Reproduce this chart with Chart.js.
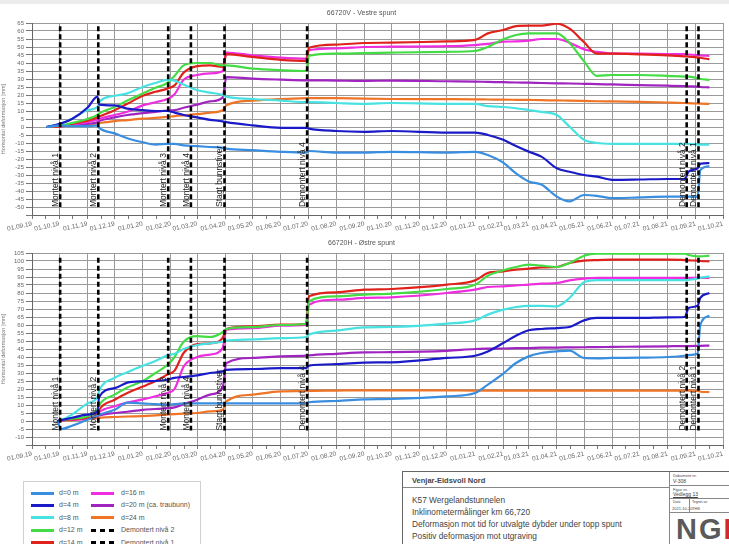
<!DOCTYPE html>
<html>
<head>
<meta charset="utf-8">
<script src="https://cdn.jsdelivr.net/npm/chart.js@4.4.1/dist/chart.umd.min.js"></script>
<style>
  html, body { margin: 0; padding: 0; background: #fff; }
  body { width: 729px; height: 544px; position: relative; overflow: hidden;
         font-family: 'Liberation Sans', Arial, sans-serif; }
  #strip { position: absolute; left: 0; top: 0; width: 729px; height: 4px; background: #ececec; }
  .panel { position: absolute; left: 0; width: 729px; height: 240px; }
  #legend { position: absolute; left: 23px; top: 481px; width: 176px; height: 70px;
            border: 1px solid #d0d0d0; background: #fff; }
  .lg-sw { position: absolute; height: 3px; width: 23px; }
  .lg-tx { position: absolute; font-size: 7px; color: #555; line-height: 8px; white-space: nowrap; }
  #tblock { position: absolute; left: 402px; top: 471px; width: 340px; height: 90px;
            border: 1px solid #666; background: #fff; color: #444; overflow: hidden; }
  #tblock .t { position: absolute; white-space: nowrap; }
  .hl { position: absolute; height: 0; border-top: 1px solid #888; }
  .vl { position: absolute; width: 0; border-left: 1px solid #888; }
</style>
</head>
<body>
<div id="strip"></div>
<div class="panel" style="top:0px"><canvas id="cTop" width="729" height="240"></canvas></div>
<div class="panel" style="top:230px"><canvas id="cBot" width="729" height="240"></canvas></div>
<div id="legend"></div>
<div id="tblock">
  <div class="t" style="left:9px;top:4px;font-size:7.5px;font-weight:bold;">Venjar-Eidsvoll Nord</div>
  <div class="hl" style="left:0;top:15px;width:266px;"></div>
  <div class="t" style="left:9px;top:23px;font-size:8.3px;">K57 Wergelandstunnelen</div>
  <div class="t" style="left:9px;top:35px;font-size:8.3px;">Inklinometermålinger km 66,720</div>
  <div class="t" style="left:9px;top:47px;font-size:8.3px;">Deformasjon mot tid for utvalgte dybder under topp spunt</div>
  <div class="t" style="left:9px;top:59px;font-size:8.3px;">Positiv deformasjon mot utgraving</div>
  <div class="vl" style="left:266px;top:0;height:90px;"></div>
  <div class="t" style="left:270px;top:1px;font-size:4px;">Dokument nr.</div>
  <div class="t" style="left:270px;top:6px;font-size:5px;">V-308</div>
  <div class="hl" style="left:266px;top:13px;width:80px;"></div>
  <div class="t" style="left:270px;top:15px;font-size:4px;">Figur nr.</div>
  <div class="t" style="left:270px;top:19px;font-size:5px;text-decoration:underline;">Vedlegg 13</div>
  <div class="hl" style="left:266px;top:26px;width:80px;"></div>
  <div class="t" style="left:270px;top:28px;font-size:3.5px;">Dato</div>
  <div class="t" style="left:289px;top:28px;font-size:3.5px;">Tegnet av</div>
  <div class="t" style="left:269px;top:34px;font-size:4px;">2021-10-20</div>
  <div class="t" style="left:289px;top:34px;font-size:4px;">THS</div>
  <div class="vl" style="left:286px;top:26px;height:14px;"></div>
  <div class="hl" style="left:266px;top:40px;width:80px;"></div>
  <div class="t" style="left:273px;top:41px;font-size:29px;font-weight:bold;color:#5a5a5a;letter-spacing:2px;">NG<span style="color:#d22a2a">I</span></div>
</div>

<script>
// Monitoring dates (dd.mm.yy) and horizontal deformation in mm per depth
const topDates = ['17.09.19','02.10.19','15.10.19','01.11.19','12.11.19','14.11.19','01.12.19','15.12.19',
  '01.01.20','15.01.20','28.01.20','05.02.20','15.02.20','01.03.20','15.03.20','29.03.20','02.04.20',
  '01.05.20','01.06.20','29.06.20','02.07.20','01.08.20','01.09.20','01.10.20','01.12.20','01.01.21',
  '15.01.21','01.02.21','15.02.21','01.03.21','15.03.21','01.04.21','15.04.21','01.05.21','15.05.21',
  '01.06.21','01.07.21','01.08.21','20.08.21','24.08.21','03.09.21','06.09.21','16.09.21'];
const bottomDates = ['29.09.19','03.10.19','15.10.19','01.11.19','12.11.19','14.11.19','01.12.19','15.12.19',
  '01.01.20','15.01.20','28.01.20','05.02.20','15.02.20','01.03.20','15.03.20','29.03.20','02.04.20',
  '01.05.20','01.06.20','29.06.20','02.07.20','01.08.20','01.09.20','01.10.20','01.12.20','01.01.21',
  '15.01.21','01.02.21','15.02.21','01.03.21','15.03.21','01.04.21','15.04.21','01.05.21','15.05.21',
  '01.06.21','01.07.21','01.08.21','20.08.21','24.08.21','03.09.21','06.09.21','16.09.21'];

const seriesNames  = ['d=0 m','d=4 m','d=8 m','d=12 m','d=14 m','d=16 m','d=20 m (ca. traubunn)','d=24 m'];
const seriesColors = ['#3a8ee0','#1a1ac8','#48e2e2','#44dc44','#e0221c','#ee2edf','#a024c0','#f07426'];

// 66720V - Vestre spunt
const vestre_d0  = [0,1,0.5,0.5,1,-0.5,-4,-7,-9.5,-11,-10.5,-10.5,-11.5,-12,-12.5,-13,-13.5,-14.5,-15.5,-16,-15,-16,-16,-15.5,-16,-15.5,-17.5,-22.3,-29,-34,-36,-43.5,-46.5,-42.5,-43,-44.5,-44,-43.5,-43.5,-43.5,-43.5,-27,-24.5];
const vestre_d4  = [0,2,5,12,19,14,13.5,11.5,10.5,10,10,9,7.5,6,4.5,3.5,3,1,-0.5,-0.5,-1,-2.5,-3,-2.5,-3.5,-3.5,-5,-8,-11.9,-15.4,-18.5,-25.8,-28,-30,-31,-33,-32.8,-32.5,-32.5,-28,-25.8,-23,-22.5];
const vestre_d8  = [0,2,5,10.5,12.5,15.5,19.5,21,25,27.5,29.5,29,26.5,23,21.5,20,19,17.5,16.5,15.5,15.5,15,14.5,15,14.5,14.5,13,12.5,11.7,10.6,9.5,7.5,0.2,-8,-10,-10.5,-10.5,-10.5,-10.5,-10.5,-11,-11,-11];
const vestre_d12 = [0,1,2.5,5,7.5,8.5,12.5,16.5,21,24.5,27.5,32,38.5,40,40,38.5,38.5,36.5,35.5,35,44.5,45.8,46.2,46.5,47,47.5,50,54.8,57.5,58.5,58.5,58.5,52.5,41,32,32.5,32.5,32,31.5,31.5,30.5,30,29.5];
const vestre_d14 = [0,0.6,2,4,6,6.5,10.5,14.5,19.5,22,24,26,34,38,38.5,37.5,45.5,43.8,42,41.3,49.5,51.5,52.5,52.7,53.5,54.4,58.5,60.6,63,63.3,63.3,64.6,61.5,53,45.8,45.8,45.4,44.8,44.2,44,43.5,43.3,42.3];
const vestre_d16 = [0,0.5,1.5,3,4.5,5,7.5,9.5,13.5,15.5,17.5,20.5,29.5,32.5,33.5,35,46.5,44.8,43.3,42.7,48,49.2,50,50.2,50.5,51.2,51.9,53.3,53.5,54,55,55,52.7,48.5,47,46,45.8,45.6,45.5,45.3,45,44.8,44.4];
const vestre_d20 = [0,0.5,1,2,3,3.7,6,7.5,8.7,9.5,10.3,10.5,12,14,16,18.5,31.2,30.2,29.6,29.2,29.2,29,28.8,29,28.6,28.4,28.2,28,27.8,27.7,27.5,27.3,27.2,27,26.8,26.6,26.2,25.8,25.5,25.4,25.2,25,24.8];
const vestre_d24 = [0,0.5,1,1.7,2.3,2.5,3.7,4.3,5.2,5.7,6.3,6.8,7.3,8,9,10.5,13.5,16.5,17.5,18,18.1,18,17.7,17.5,17.4,17.3,17.2,17.1,17,16.9,16.8,16.6,16.5,16.3,16.1,16,15.7,15.3,15,14.9,14.7,14.6,14.4];

// 66720H - Østre spunt
const ostre_d0  = [0,-5,-3,0.8,3.5,4,7,11.5,11,10.5,10.2,10.5,11,11,11,11,11,11,11,11,11.7,12.5,13.5,13.75,15.4,17.5,22.7,29.6,36.25,40.4,42.5,43.5,44,39.4,39.2,39.4,39.6,40,40.8,41.2,42,60,65.8];
const ostre_d4  = [0,0.5,2,4,6,15,20.5,24,24.8,25,25.8,27,27.5,28.5,30,31,32,32.5,33,33,34.6,35.5,36.5,36.7,39.4,40.8,43.5,48.75,53.3,56.7,57.5,58.1,58.75,62.9,64.4,64.4,64.4,64.8,65,70.6,72,76.9,80];
const ostre_d8  = [0,0.5,4,11,15,19,27,30.5,34.5,37.5,41,42,45,47.5,48.5,49.5,50.2,51,51.8,52.5,54,56.5,58.5,58.75,60.8,62.9,66.5,69.6,71.25,72,72,71.7,76.9,86.7,88,88,88,88,88,88.2,89,89.5,90.4];
const ostre_d12 = [0,0.5,1.5,3,7,10,16.5,21,25,30,35,40,49.5,53,52.5,55.5,57.5,58.7,60,60.8,74.8,77.9,79,79.6,82.5,85.2,90.8,94.2,96.25,97.7,97.1,96.25,98.75,103.3,104.6,104.6,104.6,104.6,104.6,103.75,102.9,102.9,103.3];
const ostre_d14 = [0,0.5,1,1.9,4,7,13.3,17.5,21.5,25,29,31.5,42.5,48,48.5,52,57.5,59.2,60.2,60.8,77.9,80.4,82.1,82.5,85.2,87.9,92.5,93.5,94.6,95.2,96,96.25,98.75,100.2,100.6,100.8,100.8,100.8,100.6,100.4,100.2,100,99.8];
const ostre_d16 = [0,0.3,0.8,1.25,4,5.5,9.2,11.5,13.5,15.5,17.5,20,34,40,41.5,45.5,57.1,58.1,59.6,60.2,72.7,75.8,76.9,77.3,80,82.1,83.75,84.2,84.8,85.2,85.8,86.25,87.9,89,89.4,89.4,89.4,89.4,89.4,89.4,89.5,89.5,89.5];
const ostre_d20 = [0,0.3,1,1.8,3,3.5,5,5.8,7,7.5,8,8.5,10.5,13.3,16.5,21,36.2,39.4,40.4,40.8,41,42,42.9,43,43.8,45,45.2,45.3,45.5,45.6,45.8,45.9,46,46.1,46.2,46.3,46.5,46.7,46.8,46.8,46.9,47,47.1];
const ostre_d24 = [0,0.2,0.6,1.5,1.8,2,2.5,2.8,3,3.5,4,4.3,4.6,5,6,7,12.3,16.5,18.5,18.7,18.8,19,19.2,19.2,19.1,19,19,19,19,19,19,19,19,19,19,19,19,19,19,19,18.8,18.3,18.1];

// Construction events (vertical markers)
const eventNames = ['Montert nivå 1','Montert nivå 2','Montert nivå 3','Montert nivå 4','Stagt bunnstiver','Demontert nivå 4','Demontert nivå 2','Demontert nivå 1'];
const eventDates = ['02.10.19','13.11.19','29.01.20','23.02.20','31.03.20','30.06.20','22.08.21','04.09.21'];

const FONT = "'Liberation Sans', Arial, sans-serif";
const BASE = Date.UTC(2019, 8, 1);
function dayOf(s) {
  const [d, m, y] = s.split('.').map(Number);
  return (Date.UTC(2000 + y, m - 1, d) - BASE) / 86400000;
}
function fmt(day) {
  const dt = new Date(BASE + day * 86400000);
  const p = n => String(n).padStart(2, '0');
  return p(dt.getUTCDate()) + '.' + p(dt.getUTCMonth() + 1) + '.' + p(dt.getUTCFullYear() % 100);
}

// Month-start (major) and mid-month (minor) ticks from 01.09.19 to 01.10.21
const majorDays = new Set();
const axisTicks = [];
for (let k = 0; k <= 25; k++) {
  const d = (Date.UTC(2019, 8 + k, 1) - BASE) / 86400000;
  majorDays.add(d);
  axisTicks.push(d);
  if (k < 25) axisTicks.push(d + 15);
}
const X_MAX = (Date.UTC(2021, 9, 1) - BASE) / 86400000;

const eventLabels = {
  id: 'eventLabels',
  afterDatasetsDraw(chart, args, opts) {
    const { ctx, scales } = chart;
    ctx.save();
    ctx.font = '8.5px ' + FONT;
    ctx.fillStyle = '#222';
    ctx.textAlign = 'left';
    ctx.textBaseline = 'alphabetic';
    eventNames.forEach((name, i) => {
      const x = scales.x.getPixelForValue(dayOf(eventDates[i]));
      const y = scales.y.getPixelForValue(opts.base);
      ctx.save();
      ctx.translate(x - 2, y);
      ctx.rotate(-Math.PI / 2);
      ctx.fillText(name, 0, 0);
      ctx.restore();
    });
    ctx.restore();
  }
};

function makeChart(id, title, dates, values, yMin, yMax, span) {
  const xs = dates.map(dayOf);
  const datasets = [];
  eventNames.forEach((name, i) => {
    const ex = dayOf(eventDates[i]);
    datasets.push({
      label: name,
      data: [{ x: ex, y: span[0] }, { x: ex, y: span[1] }],
      borderColor: '#000', borderWidth: 2.6, borderDash: [5, 3],
      pointRadius: 0, fill: false
    });
  });
  values.forEach((vals, i) => {
    datasets.push({
      label: seriesNames[i],
      data: vals.map((v, j) => ({ x: xs[j], y: v })),
      borderColor: seriesColors[i], borderWidth: 2.2, pointRadius: 0,
      cubicInterpolationMode: 'monotone', fill: false
    });
  });
  return new Chart(document.getElementById(id), {
    type: 'line',
    data: { datasets },
    options: {
      responsive: false, animation: false, events: [],
      layout: { padding: { left: 0, right: 6, top: 0, bottom: 0 } },
      plugins: {
        legend: { display: false },
        tooltip: { enabled: false },
        title: {
          display: true, text: title, color: '#555',
          font: { family: FONT, size: 7, weight: 'normal' },
          padding: { top: 9, bottom: 5.6 }
        },
        eventLabels: { base: span[1] }
      },
      scales: {
        x: {
          type: 'linear', min: 0, max: X_MAX,
          afterBuildTicks: s => { s.ticks = axisTicks.map(v => ({ value: v })); },
          afterFit: s => { s.height = 25; },
          ticks: {
            autoSkip: false, minRotation: 12, maxRotation: 12, padding: 1,
            color: '#666', font: { family: FONT, size: 6.5 },
            callback: v => majorDays.has(v) ? fmt(v) : ''
          },
          grid: {
            color: c => (c.tick && majorDays.has(c.tick.value)) ? '#9a9a9a' : 'rgba(0,0,0,0)',
            tickColor: '#777', tickLength: 4, lineWidth: 1
          },
          border: { color: '#666' }
        },
        y: {
          min: yMin, max: yMax,
          afterFit: s => { s.width = 32; },
          ticks: {
            stepSize: 5, autoSkip: false, color: '#666', padding: 2,
            font: { family: FONT, size: 6 },
            callback: v => v === yMin ? '' : String(v)
          },
          grid: { color: '#9a9a9a', tickColor: '#777', tickLength: 6, lineWidth: 1 },
          border: { color: '#666' },
          title: {
            display: true, text: 'Horisontal deformasjon [mm]', color: '#777',
            font: { family: FONT, size: 5.5 }, padding: 0
          }
        }
      }
    },
    plugins: [eventLabels]
  });
}

makeChart('cTop', '66720V - Vestre spunt', topDates,
  [vestre_d0, vestre_d4, vestre_d8, vestre_d12, vestre_d14, vestre_d16, vestre_d20, vestre_d24],
  -55, 65, [63, -50]);
makeChart('cBot', '66720H - Østre spunt', bottomDates,
  [ostre_d0, ostre_d4, ostre_d8, ostre_d12, ostre_d14, ostre_d16, ostre_d20, ostre_d24],
  -15, 105, [102, -6]);

// Legend, filled column by column
const legendItems = seriesNames.map((n, i) => ({ name: n, color: seriesColors[i], dashed: false }))
  .concat([{ name: eventNames[6], dashed: true }, { name: eventNames[7], dashed: true }]);
const lg = document.getElementById('legend');
legendItems.forEach((it, i) => {
  const col = Math.floor(i / 5), row = i % 5;
  const cy = 11 + row * 12.4;
  const sw = document.createElement('div');
  sw.className = 'lg-sw';
  sw.style.left = (col ? 67 : 7) + 'px';
  sw.style.top = (cy - 1.5) + 'px';
  sw.style.background = it.dashed
    ? 'repeating-linear-gradient(90deg,#000 0 5px,transparent 5px 9px)'
    : it.color;
  lg.appendChild(sw);
  const tx = document.createElement('div');
  tx.className = 'lg-tx';
  tx.style.left = (col ? 97 : 35) + 'px';
  tx.style.top = (cy - 4) + 'px';
  tx.textContent = it.name;
  lg.appendChild(tx);
});
</script>
</body>
</html>
